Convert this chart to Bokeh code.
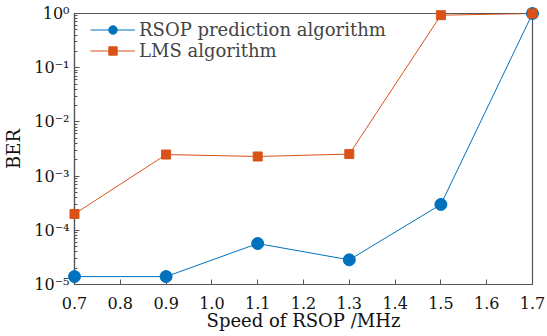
from bokeh.plotting import figure
from bokeh.models import Range1d, LogTicker, FixedTicker, CustomJSTickFormatter, Legend, LegendItem
from bokeh.embed import file_html
from bokeh.resources import INLINE

speed = [0.7, 0.9, 1.1, 1.3, 1.5, 1.7]
ber_rsop = [1.4e-5, 1.4e-5, 5.7e-5, 2.85e-5, 3.0e-4, 1.0]
ber_lms = [2.0e-4, 2.5e-3, 2.3e-3, 2.55e-3, 0.93, 1.0]
x_ticks = [0.7, 0.8, 0.9, 1.0, 1.1, 1.2, 1.3, 1.4, 1.5, 1.6, 1.7]

FONT = "DejaVu Serif"
BLUE = "#0072BD"
ORANGE = "#D95319"
AX = "#555555"

p = figure(width=547, height=336, y_axis_type="log",
           x_range=Range1d(0.7, 1.7), y_range=Range1d(1e-5, 1.0),
           output_backend="svg", toolbar_location=None,
           min_border_left=72, min_border_right=15, min_border_top=13, min_border_bottom=52)
p.xgrid.visible = False
p.ygrid.visible = False
p.outline_line_color = AX
p.outline_line_width = 1.2

r1 = p.line(speed, ber_rsop, line_color=BLUE, line_width=1)
r1m = p.scatter(speed, ber_rsop, marker="circle", size=12, fill_color=BLUE, line_color=BLUE, level="overlay")
r2 = p.line(speed, ber_lms, line_color=ORANGE, line_width=1)
r2m = p.scatter(speed, ber_lms, marker="square", size=9, fill_color=ORANGE, line_color=ORANGE, level="overlay")

p.xaxis.ticker = FixedTicker(ticks=x_ticks)
p.xaxis.formatter = CustomJSTickFormatter(code="return tick.toFixed(1);")
p.yaxis.ticker = LogTicker(desired_num_ticks=6, num_minor_ticks=10)
p.yaxis.formatter = CustomJSTickFormatter(code="""
const sup = {'-':'\u207b','0':'\u2070','1':'\u00b9','2':'\u00b2','3':'\u00b3','4':'\u2074','5':'\u2075','6':'\u2076','7':'\u2077','8':'\u2078','9':'\u2079'};
const e = Math.round(Math.log10(tick));
return '10' + String(e).split('').map(c => sup[c]).join('');
""")

for ax in [p.xaxis[0], p.yaxis[0]]:
    ax.axis_line_color = AX
    ax.axis_line_width = 1.2
    ax.major_tick_line_color = AX
    ax.minor_tick_line_color = AX
    ax.major_tick_in = 5
    ax.major_tick_out = 0
    ax.minor_tick_in = 3
    ax.minor_tick_out = 0
    ax.major_label_text_font = FONT
    ax.major_label_text_font_size = "16px"
    ax.major_label_text_color = "#111111"
    ax.axis_label_text_font = FONT
    ax.axis_label_text_font_size = "18px"
    ax.axis_label_text_font_style = "normal"
    ax.axis_label_text_color = "#111111"
p.xaxis.minor_tick_line_color = None
p.xaxis.major_label_standoff = 12
p.xaxis.axis_label = "Speed of RSOP /MHz"
p.yaxis.axis_label = "BER"
p.xaxis.axis_label_standoff = -2
p.yaxis.axis_label_standoff = 7

legend = Legend(items=[LegendItem(label="RSOP prediction algorithm", renderers=[r1, r1m]),
                       LegendItem(label="LMS algorithm", renderers=[r2, r2m])],
                location=(16, 223))
legend.border_line_color = None
legend.background_fill_alpha = 0
legend.label_text_font = FONT
legend.label_text_font_size = "18px"
legend.glyph_width = 45
legend.label_height = 21
legend.glyph_height = 21
legend.spacing = 0
legend.margin = 0
legend.padding = 0
legend.label_standoff = 4
p.add_layout(legend)

open("out.html", "w").write(file_html(p, INLINE))
